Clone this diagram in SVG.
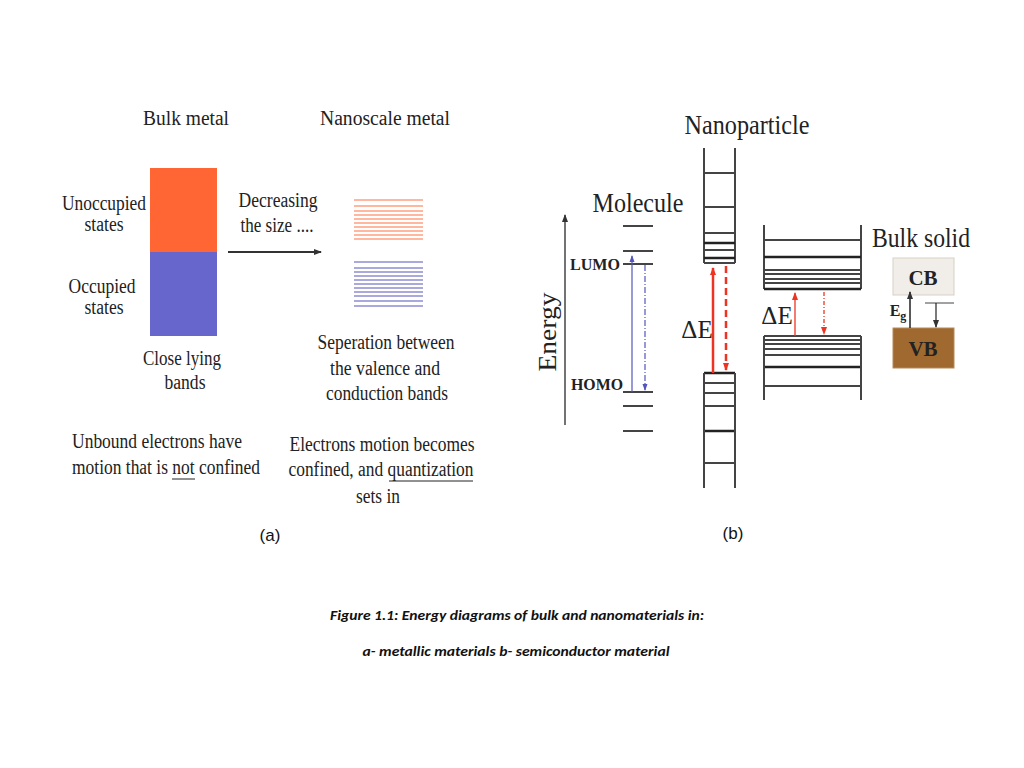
<svg xmlns="http://www.w3.org/2000/svg" width="1024" height="768" viewBox="0 0 1024 768">
<style>
.s{font-family:"Liberation Serif",serif;fill:#222;text-anchor:middle}
.t{font-size:20px}
.b{font-weight:bold}
.g{stroke:#444;stroke-width:2;fill:none}
.gd{stroke:#222;stroke-width:2.5}
.o{stroke:#ff7040;stroke-width:1.2}
.v{stroke:#5555bb;stroke-width:1.2}
.r{stroke:#ee3322;stroke-width:2.5;fill:none}
.r1{stroke:#ee3322;stroke-width:1.3;fill:none}
</style>
<defs>
<marker id="ah" markerWidth="8" markerHeight="8" refX="7" refY="4" orient="auto" markerUnits="userSpaceOnUse"><path d="M0,1 L8,4 L0,7z" fill="#333"/></marker>
<marker id="ar" markerWidth="8" markerHeight="8" refX="7" refY="4" orient="auto" markerUnits="userSpaceOnUse"><path d="M0,1 L8,4 L0,7z" fill="#ee3322"/></marker>
<marker id="ab" markerWidth="7" markerHeight="7" refX="6" refY="3.5" orient="auto" markerUnits="userSpaceOnUse"><path d="M0,1 L7,3.5 L0,6z" fill="#5555bb"/></marker>
</defs>
<rect width="1024" height="768" fill="#fff"/>
<g id="panel-a">
<text class="s t" x="186" y="125" textLength="86" lengthAdjust="spacingAndGlyphs">Bulk metal</text>
<text class="s t" x="385" y="125" textLength="130" lengthAdjust="spacingAndGlyphs">Nanoscale metal</text>
<g id="bulk-band"><rect x="150" y="168" width="67" height="84" fill="#ff6633"/><rect x="150" y="252" width="67" height="84" fill="#6666cc"/></g>
<text class="s t" x="104" y="210" textLength="84" lengthAdjust="spacingAndGlyphs">Unoccupied</text><text class="s t" x="104" y="231" textLength="39" lengthAdjust="spacingAndGlyphs">states</text>
<text class="s t" x="102" y="293" textLength="67" lengthAdjust="spacingAndGlyphs">Occupied</text><text class="s t" x="104" y="314" textLength="39" lengthAdjust="spacingAndGlyphs">states</text>
<text class="s t" x="278" y="207" textLength="79" lengthAdjust="spacingAndGlyphs">Decreasing</text><text class="s t" x="277" y="232" textLength="73" lengthAdjust="spacingAndGlyphs">the size ....</text>
<g id="conn-a"><line x1="228" y1="252" x2="321" y2="252" stroke="#333" stroke-width="2" marker-end="url(#ah)"/></g>
<g id="nano-levels">
<path class="o" d="M354 200H423M354 206H423M354 211H423M354 215H423M354 219H423M354 223H423M354 227H423M354 231H423M354 235H423M354 239H423"/>
<path class="v" d="M354 262H423M354 268H423M354 272H423M354 276H423M354 280H423M354 284H423M354 288H423M354 292H423M354 296H423M354 301H423M354 306H423"/>
</g>
<text class="s t" x="182" y="365" textLength="78" lengthAdjust="spacingAndGlyphs">Close lying</text><text class="s t" x="185" y="389" textLength="41" lengthAdjust="spacingAndGlyphs">bands</text>
<text class="s t" x="386" y="349" textLength="137" lengthAdjust="spacingAndGlyphs">Seperation between</text><text class="s t" x="385" y="375" textLength="110" lengthAdjust="spacingAndGlyphs">the valence and</text><text class="s t" x="387" y="400" textLength="122" lengthAdjust="spacingAndGlyphs">conduction bands</text>
<text class="s t" x="157" y="448" textLength="170" lengthAdjust="spacingAndGlyphs">Unbound electrons have</text><text class="s t" x="166" y="474" textLength="188" lengthAdjust="spacingAndGlyphs">motion that is not confined</text>
<line x1="172" y1="479" x2="195" y2="479" stroke="#222"/>
<text class="s t" x="382" y="451" textLength="185" lengthAdjust="spacingAndGlyphs">Electrons motion becomes</text><text class="s t" x="381" y="476" textLength="185" lengthAdjust="spacingAndGlyphs">confined, and quantization</text>
<line x1="389" y1="481" x2="473" y2="481" stroke="#222"/>
<text class="s t" x="378" y="503" textLength="44" lengthAdjust="spacingAndGlyphs">sets in</text>
</g>
<g id="panel-b">
<text class="s" x="747" y="134" font-size="28" textLength="125" lengthAdjust="spacingAndGlyphs">Nanoparticle</text>
<text class="s" x="638" y="212" font-size="28" textLength="91" lengthAdjust="spacingAndGlyphs">Molecule</text>
<text class="s" x="921" y="247" font-size="27" textLength="98" lengthAdjust="spacingAndGlyphs">Bulk solid</text>
<g id="energy-axis"><line x1="565" y1="425" x2="565" y2="215" stroke="#444" stroke-width="1.5" marker-end="url(#ah)"/>
<text class="s" font-size="25" transform="translate(556,332) rotate(-90)" textLength="79" lengthAdjust="spacingAndGlyphs">Energy</text></g>
<g id="molecule">
<path class="g" d="M623 226H653M623 251H653M623 264H653M623 392H653M623 406H653M623 431H653"/>
<text class="s b" x="595" y="270" font-size="16" textLength="50" lengthAdjust="spacingAndGlyphs">LUMO</text>
<text class="s b" x="597" y="390" font-size="16" textLength="52" lengthAdjust="spacingAndGlyphs">HOMO</text>
<line x1="632" y1="392" x2="632" y2="256" stroke="#5555bb" stroke-width="1.2" marker-end="url(#ab)"/>
<line x1="645" y1="265" x2="645" y2="390" stroke="#5555bb" stroke-width="1.2" stroke-dasharray="6,2,1,2" marker-end="url(#ab)"/>
</g>
<g id="nanoparticle">
<path class="g" d="M704 148V263M735 148V263M704 173H735M704 207H735M704 233H735M704 250H735M704 263H735"/>
<path class="gd" d="M704 243H735M704 258H735M704 373H735M704 431H735"/>
<path class="g" d="M704 373V488M735 373V488M704 383H735M704 393H735M704 406H735M704 463H735"/>
<line class="r" x1="713" y1="373" x2="713" y2="268" marker-end="url(#ar)"/>
<line class="r" x1="726" y1="266" x2="726" y2="370" stroke-dasharray="7,4" marker-end="url(#ar)"/>
<text class="s" x="697" y="338" font-size="25">ΔE</text>
</g>
<g id="bulk-bands">
<path class="g" d="M764 225V289M861 225V289M764 240H861M764 270H861M764 274H861M764 279H861M764 283H861"/>
<path class="gd" d="M764 257H861M764 289H861M764 367H861"/>
<path class="g" d="M764 336V400M861 336V400M764 336H861M764 340H861M764 344H861M764 349H861M764 355H861M764 386H861"/>
<line class="r1" x1="795" y1="336" x2="795" y2="293" stroke-width="2" marker-end="url(#ar)"/>
<line class="r1" x1="824" y1="292" x2="824" y2="334" stroke-dasharray="4,2,1,2" marker-end="url(#ar)"/>
<text class="s" x="777" y="324" font-size="25">ΔE</text>
</g>
<g id="bulk-solid">
<rect x="893" y="258" width="61" height="37" fill="#f1eeea" stroke="#d8cfc4"/>
<rect x="893" y="328" width="61" height="40" fill="#a0692f" stroke="#b58a5a"/>
<text class="s b" x="923" y="285" font-size="21">CB</text>
<text class="s b" x="923" y="356" font-size="21" fill="#222">VB</text>
<text class="s b" x="898" y="316" font-size="16">E<tspan font-size="12" dy="4">g</tspan></text>
<line x1="910" y1="328" x2="910" y2="292" stroke="#222" stroke-width="1.5" marker-end="url(#ah)"/>
<line x1="925" y1="303" x2="954" y2="303" stroke="#444"/>
<line x1="936" y1="303" x2="936" y2="327" stroke="#222" stroke-width="1.2" marker-end="url(#ah)"/>
</g>
</g>
<text x="270" y="541" font-family="Liberation Sans,sans-serif" font-size="17" text-anchor="middle" fill="#111">(a)</text>
<text x="733" y="539" font-family="Liberation Sans,sans-serif" font-size="17" text-anchor="middle" fill="#111">(b)</text>
<text x="517" y="620" font-family="Carlito,Lato,sans-serif" font-size="13" font-weight="bold" font-style="italic" text-anchor="middle" fill="#111" textLength="374" lengthAdjust="spacingAndGlyphs">Figure 1.1: Energy diagrams of bulk and nanomaterials in:</text>
<text x="516" y="656" font-family="Carlito,Lato,sans-serif" font-size="13" font-weight="bold" font-style="italic" text-anchor="middle" fill="#111" textLength="307" lengthAdjust="spacingAndGlyphs">a- metallic materials b- semiconductor material</text>
</svg>
